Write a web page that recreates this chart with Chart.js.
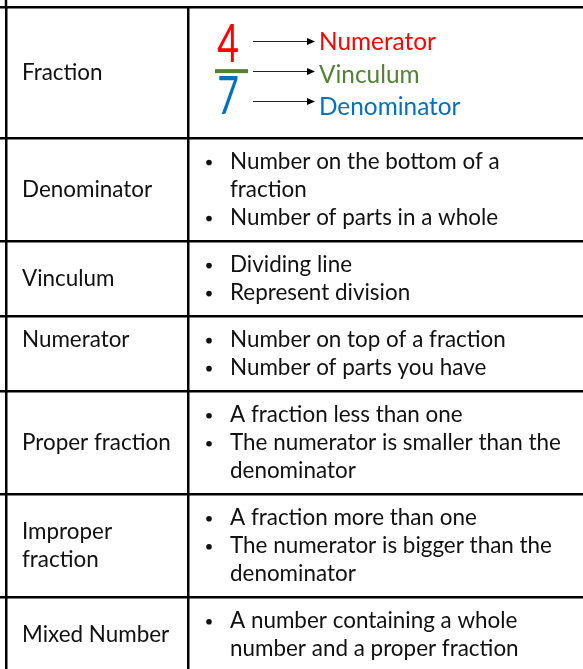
<!DOCTYPE html>
<html>
<head>
<meta charset="utf-8">
<title>Fraction vocabulary</title>
<script src="https://cdn.jsdelivr.net/npm/chart.js@4.4.1/dist/chart.umd.min.js"></script>
<style>
html,body{margin:0;padding:0;background:#fff;}
#wrap{width:583px;height:669px;}
</style>
</head>
<body>
<div id="wrap"><canvas id="chart"></canvas></div>
<script>
// table content
let terms = ["Fraction", "Denominator", "Vinculum", "Numerator", "Proper fraction", "Improper\nfraction", "Mixed Number"];
let meanings = [
    [],
    [["Number on the bottom of a", "fraction"], ["Number of parts in a whole"]],
    [["Dividing line"], ["Represent division"]],
    [["Number on top of a fraction"], ["Number of parts you have"]],
    [["A fraction less than one"], ["The numerator is smaller than the", "denominator"]],
    [["A fraction more than one"], ["The numerator is bigger than the", "denominator"]],
    [["A number containing a whole", "number and a proper fraction"]]
];
let fractionDigits = ["4", "7"];
let fractionParts = ["Numerator", "Vinculum", "Denominator"];

// look
let partColors = ["#ff0000", "#548235", "#0070c0"];
let topAligned = ["Numerator"];   // this cell sits on the first line, not in the middle
const FONT = "Lato";
const LINE_PX = 28;        // one text line, in pixels
const ROW_PAD = 0.68;      // extra space per row, in lines
const DIAGRAM_LINES = 4;   // the 4/7 picture is as tall as four lines
const colEdges = [6, 188];

// rows are as tall as their text
let rowLines = terms.map((t, i) => {
    let n = t.split("\n").length;
    let m = 0;
    meanings[i].forEach(b => m += b.length);
    return i == 0 ? DIAGRAM_LINES : Math.max(n, m);
});
let rowEdges = [0];
rowLines.forEach(n => rowEdges.push(rowEdges[rowEdges.length - 1] + n + ROW_PAD));

function fitSize(ctx, text, width){
    ctx.font = "100px " + FONT;
    return 100 * width / ctx.measureText(text).width;
}

const tableText = {
    id: "tableText",
    afterDraw(chart){
        let ctx = chart.ctx;
        let x = chart.scales.x, y = chart.scales.y;
        let left = x.getPixelForValue(colEdges[0]);
        let mid = x.getPixelForValue(colEdges[1]);
        let size = fitSize(ctx, "The numerator is smaller than the", 331);

        ctx.save();
        // bit of the left border above the first row
        ctx.strokeStyle = "#000";
        ctx.lineWidth = 2.5;
        ctx.beginPath();
        ctx.moveTo(left, 0);
        ctx.lineTo(left, chart.chartArea.top + 1);
        ctx.stroke();

        ctx.fillStyle = "#111";
        ctx.textBaseline = "middle";
        ctx.font = size + "px " + FONT;

        terms.forEach((t, i) => {
            let lines = t.split("\n");
            let c = (rowEdges[i] + rowEdges[i + 1]) / 2;
            if(topAligned.includes(t)) c = rowEdges[i] + ROW_PAD / 2 + 0.5 + (lines.length - 1) / 2;
            lines.forEach((l, k) => {
                ctx.fillText(l, left + 16, y.getPixelForValue(c + k - (lines.length - 1) / 2));
            });

            let k = 0;
            meanings[i].forEach(bullet => {
                bullet.forEach((l, j) => {
                    let py = y.getPixelForValue(rowEdges[i] + ROW_PAD / 2 + 0.5 + k);
                    if(j == 0){
                        ctx.beginPath();
                        ctx.arc(mid + 21, py + 1, 2.8, 0, Math.PI * 2);
                        ctx.fill();
                    }
                    ctx.fillText(l, mid + 42, py);
                    k++;
                });
            });
        });

        // the 4/7 picture
        let top = rowEdges[0];
        let digitSize = 52;
        ctx.textAlign = "center";
        [[fractionDigits[0], 1.38, partColors[0]], [fractionDigits[1], 3.24, partColors[2]]].forEach(d => {
            ctx.save();
            ctx.translate(mid + 40, y.getPixelForValue(top + d[1]));
            ctx.scale(0.72, 1);
            ctx.fillStyle = d[2];
            ctx.font = digitSize + "px " + FONT;
            ctx.fillText(d[0], 0, 0);
            ctx.restore();
        });
        ctx.fillStyle = partColors[1];
        let barY = y.getPixelForValue(top + 2.29);
        ctx.fillRect(mid + 27, barY - 2, 33, 4);

        ctx.textAlign = "left";
        let labelSize = fitSize(ctx, "Numerator", 117);
        let arrowY = [1.21, 2.29, 3.36];
        let labelY = [1.25, 2.45, 3.58];
        fractionParts.forEach((p, i) => {
            let ay = Math.round(y.getPixelForValue(top + arrowY[i])) + 0.5;
            ctx.strokeStyle = "#222";
            ctx.lineWidth = 1;
            ctx.beginPath();
            ctx.moveTo(mid + 65, ay);
            ctx.lineTo(mid + 120, ay);
            ctx.stroke();
            ctx.fillStyle = "#000";
            ctx.beginPath();
            ctx.moveTo(mid + 127, ay);
            ctx.lineTo(mid + 119, ay - 3.5);
            ctx.lineTo(mid + 119, ay + 3.5);
            ctx.closePath();
            ctx.fill();

            ctx.fillStyle = partColors[i];
            ctx.font = labelSize + "px " + FONT;
            ctx.fillText(p, mid + 131, y.getPixelForValue(top + labelY[i]));
        });
        ctx.restore();
    }
};

let chartInstance = new Chart(document.getElementById("chart"), {
    type: "scatter",
    data: { datasets: [{ data: [] }] },
    options: {
        responsive: true,
        maintainAspectRatio: false,
        animation: false,
        events: [],
        layout: { padding: { top: 7, left: 0, right: 0, bottom: 0 } },
        plugins: { legend: { display: false }, tooltip: { enabled: false } },
        scales: {
            x: {
                type: "linear",
                min: 0,
                max: 583,
                afterBuildTicks: s => { s.ticks = colEdges.map(v => ({ value: v })); },
                ticks: { display: false },
                border: { display: false },
                grid: { color: "#000", lineWidth: 2.5, drawTicks: false }
            },
            y: {
                type: "linear",
                reverse: true,
                min: 0,
                max: 662 / LINE_PX,
                afterBuildTicks: s => { s.ticks = rowEdges.map(v => ({ value: v })); },
                ticks: { display: false },
                border: { display: false },
                grid: { color: "#000", lineWidth: 2.5, drawTicks: false }
            }
        }
    },
    plugins: [tableText]
});
</script>
</body>
</html>
